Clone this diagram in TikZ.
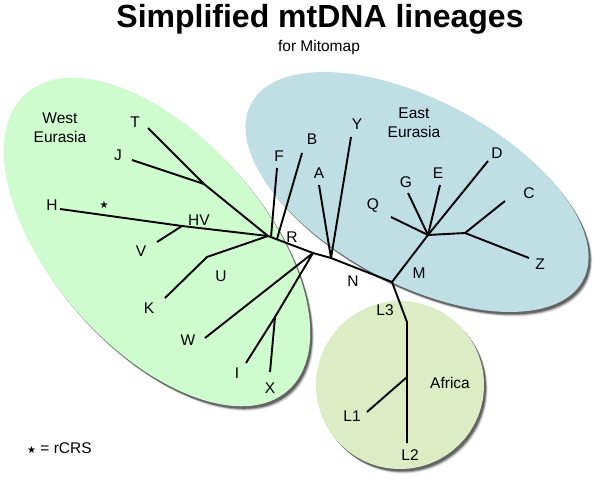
\documentclass[tikz,border=0pt]{standalone}
\usepackage{fontspec}
\setmainfont{Liberation Sans}
\newfontfamily\symfont{DejaVu Sans}
\definecolor{wgreen}{HTML}{CFFCCE}
\definecolor{eblue}{HTML}{BFDFE5}
\definecolor{afr}{HTML}{DEECC5}
\begin{document}
\begin{tikzpicture}[x=1pt,y=-1pt,
  lbl/.style={font=\fontsize{15.5}{19}\selectfont, inner sep=0pt, align=center},
  br/.style={line width=1.9pt, line join=round},
  gE/.style={rotate around={-48.6:(157,242)}},
  bE/.style={rotate around={-28:(417,192)}},
]
\useasboundingbox[fill=white] (0,0) rectangle (600,487);

% West Eurasia
\foreach \d/\o in {4.5/0.12,3.5/0.25,2.5/0.4}{
  \begin{scope}[shift={(\d*0.8,\d)}]
    \fill[black,opacity=\o,gE] (157,242) ellipse [x radius=198,y radius=106];
  \end{scope}}
\fill[wgreen,gE] (157,242) ellipse [x radius=198,y radius=106];

% East Eurasia
\foreach \d/\o in {4.5/0.12,3.5/0.25,2.5/0.4}{
  \begin{scope}[shift={(\d*0.8,\d)}]
    \fill[black,opacity=\o,bE] (417,192) ellipse [x radius=188,y radius=92];
  \end{scope}}
\fill[eblue,bE] (417,192) ellipse [x radius=188,y radius=92];

% Africa
\foreach \d/\o in {4.5/0.12,3.5/0.25,2.5/0.4}{
  \begin{scope}[shift={(\d*0.8,\d)}]
    \fill[black,opacity=\o] (400,385) circle [radius=84];
  \end{scope}}
\fill[afr] (400,385) circle [radius=84];

% titles
\node[anchor=base, font=\fontsize{32}{36}\selectfont\bfseries] (title) at (320,28) {Simplified mtDNA lineages};
\node[anchor=base, font=\fontsize{15.5}{18}\selectfont] (sub) at (319,52) {for Mitomap};

% coordinates
\coordinate (R) at (268,236);
\coordinate (pT) at (148,128);
\coordinate (jJ) at (204,184);
\coordinate (pJ) at (132,160);
\coordinate (pH) at (60,209);
\coordinate (jHV) at (182,226);
\coordinate (pV) at (157,242);
\coordinate (pF) at (277,168);
\coordinate (bF) at (271,237);
\coordinate (pB) at (302,153);
\coordinate (bB) at (277,239);
\coordinate (jU) at (207,257);
\coordinate (pK) at (165,298);
\coordinate (jW) at (313,253);
\coordinate (pW) at (205,338);
\coordinate (jIX) at (275,317);
\coordinate (pI) at (246,363);
\coordinate (pX) at (270,372);
\coordinate (N) at (331,258);
\coordinate (pA) at (319,185);
\coordinate (pY) at (351,137);
\coordinate (M) at (392,282);
\coordinate (jE) at (428,235);
\coordinate (pQ) at (391,217);
\coordinate (pG) at (408,193);
\coordinate (pE) at (440,185);
\coordinate (pD) at (488,161);
\coordinate (jCZ) at (465,233);
\coordinate (pC) at (505,201);
\coordinate (pZ) at (529,258);
\coordinate (jL3) at (407,322);
\coordinate (jL1) at (407,377);
\coordinate (pL1) at (367,412);
\coordinate (pL2) at (407,443);

% branches
\draw[br] (pT) -- (jJ) -- (R);
\draw[br] (pJ) -- (jJ);
\draw[br] (pH) -- (jHV) -- (R);
\draw[br] (pV) -- (jHV);
\draw[br] (pF) -- (bF);
\draw[br] (pB) -- (bB);
\draw[br] (R) -- (jU) -- (pK);
\draw[br] (R) -- (jW) -- (N) -- (M);
\draw[br] (jW) -- (pW);
\draw[br] (jW) -- (jIX) -- (pI);
\draw[br] (jIX) -- (pX);
\draw[br] (N) -- (pA);
\draw[br] (N) -- (pY);
\draw[br] (M) -- (jE) -- (pQ);
\draw[br] (jE) -- (pG);
\draw[br] (jE) -- (pE);
\draw[br] (jE) -- (pD);
\draw[br] (jE) -- (jCZ) -- (pC);
\draw[br] (jCZ) -- (pZ);
\draw[br] (M) -- (jL3) -- (jL1) -- (pL2);
\draw[br] (jL1) -- (pL1);

% labels
\node[lbl] (lWE) at (60,128) {West\\Eurasia};
\node[lbl] (lEE) at (414,123) {East\\Eurasia};
\node[lbl] (lAf) at (450,383) {Africa};
\node[lbl] (lT) at (135,122) {T};
\node[lbl] (lJ) at (118,155) {J};
\node[lbl] (lH) at (52,205) {H};
\node[inner sep=0pt, font=\symfont\fontsize{10}{12}\selectfont] (star) at (104,205) {★};
\node[lbl] (lHV) at (199,220) {HV};
\node[lbl] (lV) at (141,251) {V};
\node[lbl] (lU) at (221,276) {U};
\node[lbl] (lK) at (149,308) {K};
\node[lbl] (lW) at (188,340) {W};
\node[lbl] (lI) at (237,373) {I};
\node[lbl] (lX) at (270,388) {X};
\node[lbl] (lR) at (292,237) {R};
\node[lbl] (lF) at (279,156) {F};
\node[lbl] (lB) at (312,139) {B};
\node[lbl] (lA) at (319,173) {A};
\node[lbl] (lY) at (357,124) {Y};
\node[lbl] (lN) at (353,281) {N};
\node[lbl] (lM) at (419,273) {M};
\node[lbl] (lQ) at (373,206) {Q};
\node[lbl] (lG) at (406,182) {G};
\node[lbl] (lE) at (438,173) {E};
\node[lbl] (lD) at (497,153) {D};
\node[lbl] (lC) at (529,193) {C};
\node[lbl] (lZ) at (540,264) {Z};
\node[lbl] (lL3) at (385,310) {L3};
\node[lbl] (lL1) at (352,416) {L1};
\node[lbl] (lL2) at (410,455) {L2};
\node[lbl, anchor=west] (legend) at (27,448) {{\symfont\fontsize{10}{12}\selectfont ★} = rCRS};
\end{tikzpicture}
\end{document}
